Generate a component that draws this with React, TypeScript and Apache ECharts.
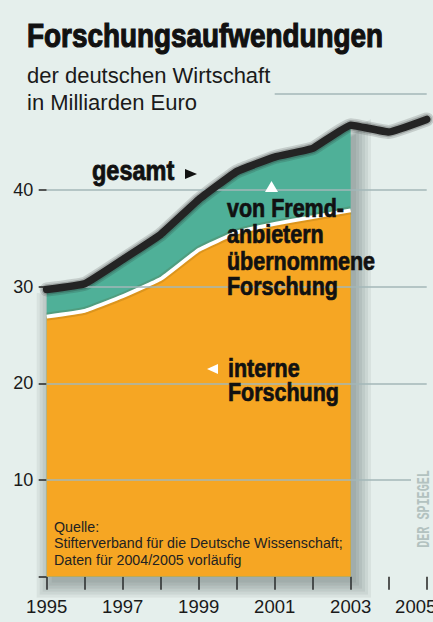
import React, { useEffect, useRef } from 'react';
import * as echarts from 'echarts';

const years = ['1995', '1996', '1997', '1998', '1999', '2000', '2001', '2002', '2003', '2004', '2005'];
const totalValues = [29.7, 30.3, 32.8, 35.4, 39.0, 41.9, 43.4, 44.3, 46.7, 46.0, 47.3];
const internalValues = [26.9, 27.5, 29.0, 30.8, 33.8, 35.6, 36.5, 37.2, 37.9];
const yTickValues = [0, 10, 20, 30, 40];
const yLabelValues = [10, 20, 30, 40];
const gridValues = [10, 20, 30, 40];
const partialGridValue = 50;

const BG = '#e5efec';
const ORANGE = '#f6a623';
const GREEN = '#4fb098';
const SANS = '"Liberation Sans", Arial, sans-serif';

function txt(text: string, x: number, baseline: number, fs: number, o: any = {}) {
  const fill = o.fill ?? '#111';
  return {
    type: 'text',
    x,
    y: baseline - 0.3465 * fs,
    scaleX: o.scaleX ?? 1,
    z: 100,
    silent: true,
    style: {
      text,
      fill,
      fontSize: fs,
      fontWeight: o.bold ? 'bold' : 'normal',
      fontFamily: o.family ?? SANS,
      align: 'left',
      verticalAlign: 'middle',
      stroke: o.heavy ? fill : undefined,
      lineWidth: o.heavy ? o.heavy : 0,
    },
  };
}

export default function App() {
  const ref = useRef<HTMLDivElement>(null);
  useEffect(() => {
    if (!ref.current) return;
    const chart = echarts.init(ref.current, null, { renderer: 'svg' });
    const nArea = internalValues.length;
    const totalArea = totalValues.map((v, i) => (i < nArea ? v : null));
    const lastYear = years[years.length - 1];

    const mainGrid = { left: 46.7, right: 6.3, top: 93.3, bottom: 45.3, outerBoundsMode: 'none', containLabel: false };

    // soft drop shadow of the area block, built from a few offset, slightly enlarged copies
    const ox = 5;
    const oy = 6;
    const spreads = [0, 3, 6, 9, 12, 15];
    const shadowGrids = spreads.map((e) => {
      const L = 46.7 - e + ox;
      const W = (304.3 + 2 * e) / 0.8;
      const y0 = 576.7 + e + oy;
      const s = (448.7 + 2 * e) / 46.7;
      return { left: L, right: 433 - L - W, top: y0 - 50 * s, bottom: 622 - y0, outerBoundsMode: 'none', containLabel: false };
    });

    const hiddenX = (gi: number) => ({ type: 'category', data: years, boundaryGap: false, gridIndex: gi, show: false });
    const hiddenY = (gi: number) => ({ type: 'value', min: 0, max: 50, gridIndex: gi, show: false });

    const option: any = {
      animation: false,
      backgroundColor: BG,
      grid: [mainGrid, ...shadowGrids],
      xAxis: [
        {
          type: 'category',
          gridIndex: 0,
          data: years,
          boundaryGap: false,
          axisLine: { show: false },
          axisTick: { show: true, length: 13, interval: 0, lineStyle: { color: '#222', width: 1.5 } },
          axisLabel: {
            interval: 1,
            margin: 20,
            fontSize: 18.5,
            color: '#1a1a1a',
            fontFamily: SANS,
            formatter: (v: string) => (v === lastYear ? '{last|' + v + '}' : v),
            rich: { last: { fontSize: 18.5, color: '#1a1a1a', fontFamily: SANS, padding: [0, 22, 0, 0] } },
          },
          splitLine: { show: false },
        },
        ...shadowGrids.map((_, i) => hiddenX(i + 1)),
      ],
      yAxis: [
        {
          type: 'value',
          gridIndex: 0,
          min: 0,
          max: 50,
          interval: 10,
          axisLine: { show: false },
          axisTick: { show: true, length: 8, customValues: yTickValues, lineStyle: { color: '#222', width: 1.5 } },
          axisLabel: {
            customValues: yLabelValues,
            margin: 13.5,
            fontSize: 18,
            color: '#1a1a1a',
            fontFamily: SANS,
            formatter: (v: number) => (yLabelValues.includes(v) ? String(v) : ''),
          },
          splitLine: { show: false },
        },
        ...shadowGrids.map((_, i) => hiddenY(i + 1)),
      ],
      series: [
        {
          type: 'line',
          data: [],
          z: 1,
          silent: true,
          markLine: {
            silent: true,
            symbol: 'none',
            label: { show: false },
            lineStyle: { color: '#a3b7b8', width: 1.5, type: 'solid' },
            data: [
              ...gridValues.map((v) => ({ yAxis: v })),
              [{ coord: ['2001', partialGridValue] }, { coord: ['2005', partialGridValue] }],
            ],
          },
        },
        ...shadowGrids.map((_, i) => ({
          type: 'line',
          xAxisIndex: i + 1,
          yAxisIndex: i + 1,
          data: totalArea,
          z: 1,
          silent: true,
          showSymbol: false,
          smooth: 0.1,
          lineStyle: { width: 0, opacity: 0 },
          areaStyle: { color: 'rgba(50,65,65,0.075)', opacity: 1 },
        })),
        {
          name: 'von Fremdanbietern übernommene Forschung',
          type: 'line',
          data: totalArea,
          z: 2,
          showSymbol: false,
          smooth: 0.1,
          lineStyle: { width: 0, opacity: 0 },
          areaStyle: { color: GREEN, opacity: 1 },
        },
        {
          name: 'interne Forschung',
          type: 'line',
          data: internalValues,
          z: 3,
          showSymbol: false,
          smooth: 0.1,
          lineStyle: { width: 0, opacity: 0 },
          areaStyle: { color: ORANGE, opacity: 1 },
        },
        {
          type: 'line',
          data: internalValues,
          z: 3,
          silent: true,
          showSymbol: false,
          smooth: 0.1,
          lineStyle: { color: 'rgba(90,60,0,0.16)', width: 8 },
        },
        {
          type: 'line',
          data: internalValues,
          z: 4,
          silent: true,
          showSymbol: false,
          smooth: 0.1,
          lineStyle: { color: '#ffffff', width: 3.8 },
        },
        {
          type: 'line',
          data: totalValues,
          z: 4,
          silent: true,
          showSymbol: false,
          smooth: 0.1,
          lineStyle: { color: 'rgba(30,30,30,0.16)', width: 14, cap: 'round', join: 'round' },
        },
        {
          type: 'line',
          data: totalValues,
          z: 4,
          silent: true,
          showSymbol: false,
          smooth: 0.1,
          lineStyle: { color: 'rgba(30,30,30,0.22)', width: 10.5, cap: 'round', join: 'round' },
        },
        {
          name: 'gesamt',
          type: 'line',
          data: totalValues,
          z: 5,
          showSymbol: false,
          smooth: 0.1,
          lineStyle: { color: '#242424', width: 7.5, cap: 'round', join: 'round' },
        },
      ],
      graphic: [
        txt('Forschungsaufwendungen', 27, 47, 34, { bold: true, scaleX: 0.82, heavy: 1.2 }),
        txt('der deutschen Wirtschaft', 27, 83, 22, { fill: '#1a1a1a' }),
        txt('in Milliarden Euro', 27, 110, 22, { fill: '#1a1a1a' }),
        txt('gesamt', 92, 180, 27, { bold: true, scaleX: 0.87, heavy: 0.8 }),
        { type: 'polygon', z: 100, silent: true, shape: { points: [[185, 169], [197, 174], [185, 179]] }, style: { fill: '#111' } },
        { type: 'polygon', z: 100, silent: true, shape: { points: [[265, 192], [271.5, 181], [278, 192]] }, style: { fill: '#fff' } },
        txt('von Fremd-', 227, 217, 25, { bold: true, scaleX: 0.86, heavy: 0.7 }),
        txt('anbietern', 227, 243.5, 25, { bold: true, scaleX: 0.86, heavy: 0.7 }),
        txt('übernommene', 227, 270, 25, { bold: true, scaleX: 0.86, heavy: 0.7 }),
        txt('Forschung', 227, 295, 25, { bold: true, scaleX: 0.86, heavy: 0.7 }),
        { type: 'polygon', z: 100, silent: true, shape: { points: [[207, 369], [218, 364], [218, 374]] }, style: { fill: '#fff' } },
        txt('interne', 228, 377, 25, { bold: true, scaleX: 0.86, heavy: 0.7 }),
        txt('Forschung', 228, 401, 25, { bold: true, scaleX: 0.86, heavy: 0.7 }),
        txt('Quelle:', 54, 531.7, 15, { fill: '#222', scaleX: 0.95 }),
        txt('Stifterverband für die Deutsche Wissenschaft;', 54, 548.3, 15, { fill: '#222', scaleX: 0.95 }),
        txt('Daten für 2004/2005 vorläufig', 54, 565, 15, { fill: '#222', scaleX: 0.95 }),
        { type: 'rect', z: 99, silent: true, shape: { x: 411, y: 465, width: 22, height: 90 }, style: { fill: BG } },
        {
          type: 'text',
          x: 424,
          y: 509,
          rotation: Math.PI / 2,
          scaleX: 0.62,
          z: 100,
          silent: true,
          style: {
            text: 'DER SPIEGEL',
            fill: '#b3c2c0',
            fontSize: 19,
            fontWeight: 'bold',
            fontFamily: '"Liberation Mono", "DejaVu Sans Mono", monospace',
            align: 'center',
            verticalAlign: 'middle',
          },
        },
      ],
    };
    chart.setOption(option);
    return () => chart.dispose();
  }, []);
  return (
    <div
      ref={ref}
      style={{ position: 'absolute', left: 0, top: 0, width: 433, height: 622, background: BG }}
    />
  );
}
